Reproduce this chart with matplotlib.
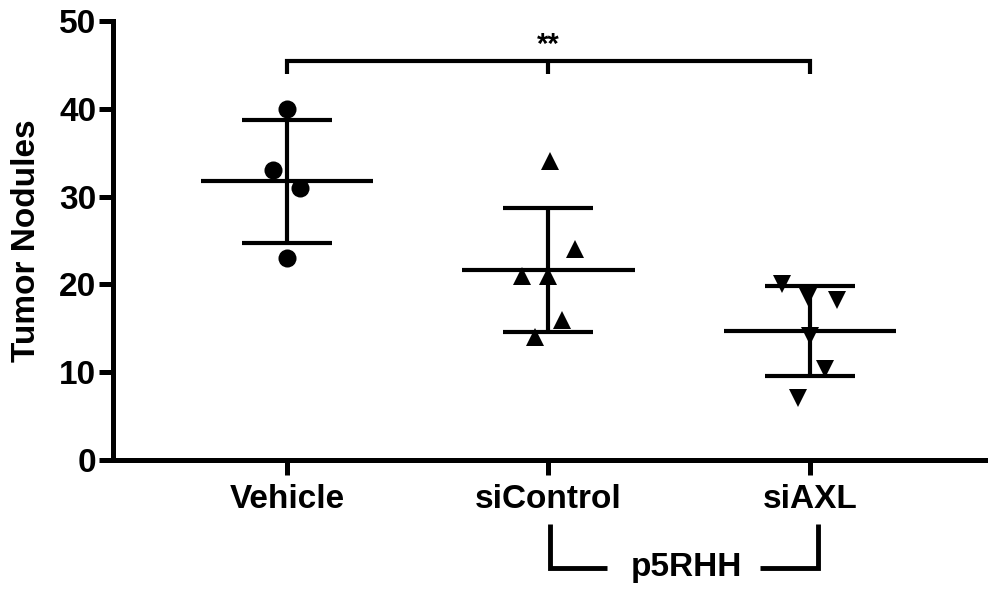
import numpy as np
import matplotlib
matplotlib.use("Agg")
import matplotlib.pyplot as plt

# ---- data ----
groups = ["Vehicle", "siControl", "siAXL"]
vehicle_vals = [40, 33, 31, 23]
sicontrol_vals = [34, 24, 21, 21, 16, 14]
siaxl_vals = [20, 18.6, 18.2, 14.1, 10.4, 7.1]
# horizontal scatter jitter (category units)
vehicle_jit = [0.0, -0.054, 0.05, 0.0]
sicontrol_jit = [0.005, 0.10, -0.10, 0.0, 0.05, -0.05]
siaxl_jit = [-0.107, -0.008, 0.103, 0.0, 0.057, -0.046]
yticks = [0, 10, 20, 30, 40, 50]
sig_label = "**"
bracket_label = "p5RHH"
ylabel = "Tumor Nodules"

plt.rcParams['font.family'] = ['Liberation Sans', 'DejaVu Sans']
plt.rcParams['font.weight'] = 'bold'

fig = plt.figure(figsize=(9.88, 5.94), dpi=100)
ax = fig.add_axes([113/988, 1-460/594, (985-113)/988, (460-21)/594])

all_vals = [vehicle_vals, sicontrol_vals, siaxl_vals]
all_jit = [vehicle_jit, sicontrol_jit, siaxl_jit]
markers = ['o', '^', 'v']
msizes = [13, 13, 13]
lw = 3.0
for i, (vals, jit, m, ms) in enumerate(zip(all_vals, all_jit, markers, msizes)):
    v = np.array(vals, dtype=float)
    mean = v.mean()
    sd = v.std(ddof=1)
    xs = i + np.array(jit)
    ax.plot(xs, v, linestyle='none', marker=m, markersize=ms, color='black',
            markeredgewidth=0, zorder=3, clip_on=False)
    ax.plot([i - 0.33, i + 0.33], [mean, mean], color='black', lw=lw,
            solid_capstyle='butt', zorder=2)
    ax.plot([i, i], [mean - sd, mean + sd], color='black', lw=lw,
            solid_capstyle='butt', zorder=2)
    for yv in (mean - sd, mean + sd):
        ax.plot([i - 0.172, i + 0.172], [yv, yv], color='black', lw=lw,
                solid_capstyle='butt', zorder=2)

# significance bracket
by, bdrop = 45.5, 44.0
ax.plot([0, 0, 2, 2], [bdrop, by, by, bdrop], color='black', lw=lw,
        solid_capstyle='butt', solid_joinstyle='miter', clip_on=False)
ax.plot([1, 1], [by, bdrop], color='black', lw=lw, solid_capstyle='butt',
        clip_on=False)
ax.text(1, 47.3, sig_label, ha='center', va='center', fontsize=21,
        fontweight='bold')

# p5RHH bracket below axis
ax.plot([1.006, 1.006, 1.224], [-7.3, -12.3, -12.3], color='black', lw=3.5,
        solid_capstyle='butt', solid_joinstyle='miter', clip_on=False)
ax.plot([1.809, 2.031, 2.031], [-12.3, -12.3, -7.3], color='black', lw=3.5,
        solid_capstyle='butt', solid_joinstyle='miter', clip_on=False)
ax.text(1.526, -12.3, bracket_label, ha='center', va='center', fontsize=24,
        fontweight='bold', clip_on=False)

ax.set_xlim(-0.665, 2.669)
ax.set_ylim(0, 50)
ax.set_xticks(range(len(groups)))
ax.set_xticklabels(groups, fontsize=24, fontweight='bold')
ax.set_yticks(yticks)
ax.set_yticklabels([str(t) for t in yticks], fontsize=24, fontweight='bold')
ax.set_ylabel(ylabel, fontsize=24, fontweight='bold', labelpad=12)

for s in ['top', 'right']:
    ax.spines[s].set_visible(False)
for s in ['left', 'bottom']:
    ax.spines[s].set_linewidth(3.6)
ax.tick_params(axis='y', length=10, width=3.6, pad=2)
ax.tick_params(axis='x', length=11, width=3.6, pad=6)

fig.savefig("out.png", dpi=100)
